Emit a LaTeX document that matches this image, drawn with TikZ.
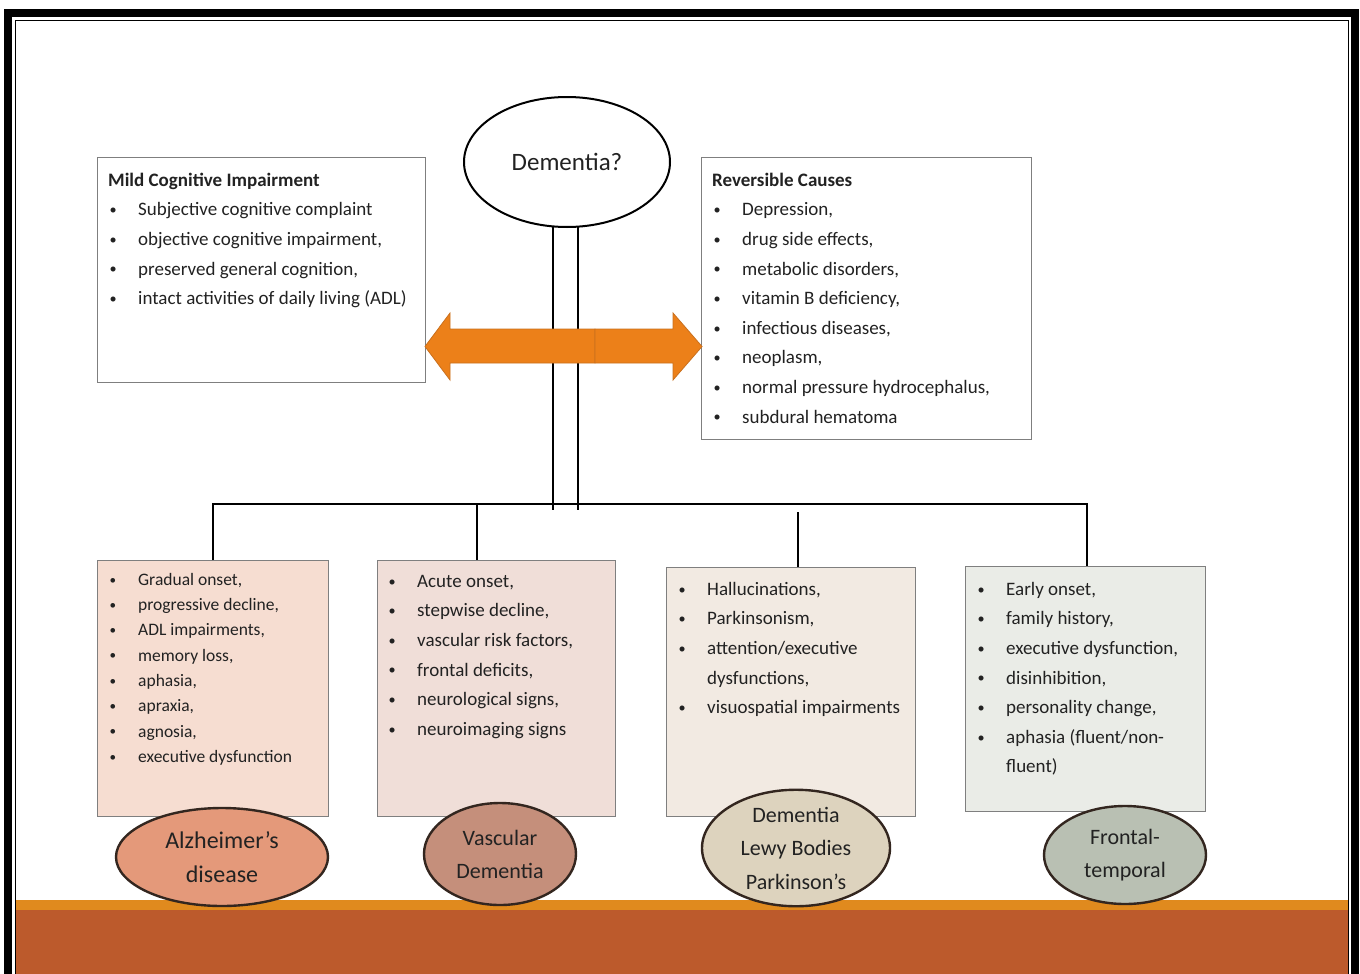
\documentclass[tikz,border=0pt]{standalone}
\usepackage{fontspec}
\setmainfont{Carlito}
\usepackage{xcolor}
\usetikzlibrary{positioning,shapes.geometric}

\definecolor{boxgray}{HTML}{7F7F7F}
\definecolor{inkgray}{HTML}{222222}
\definecolor{arroworange}{HTML}{EC8019}
\definecolor{arrowedge}{HTML}{C9701E}
\definecolor{barorange}{HTML}{E08A1E}
\definecolor{barrust}{HTML}{BC5A2C}
\definecolor{alzfill}{HTML}{F6DDD1}
\definecolor{vasfill}{HTML}{F0DED8}
\definecolor{lewyfill}{HTML}{F2EAE2}
\definecolor{ftdfill}{HTML}{EAECE7}
\definecolor{alzoval}{HTML}{E4997A}
\definecolor{vasoval}{HTML}{C58F7B}
\definecolor{lewyoval}{HTML}{DDD3BE}
\definecolor{ftdoval}{HTML}{B9C0B3}
\definecolor{ovaledge}{HTML}{33261F}

\newcommand{\blt}{\makebox[30pt][l]{\hspace{1.5pt}\raisebox{1.2pt}{\scalebox{0.75}{\textbullet}}}}
\newcommand{\cnt}{\hspace*{30pt}}

\begin{document}
\begin{tikzpicture}[x=1pt, y=-1pt,
  box/.style={draw=boxgray, line width=1.3pt, anchor=north west, inner sep=0pt},
  items/.style={anchor=north west, inner sep=0pt, align=left, text=inkgray, font=\fontsize{19}{29.6}\selectfont},
  oval/.style={ellipse, draw=ovaledge, line width=2.4pt, inner sep=0pt, align=center, text=inkgray},
  conn/.style={black, line width=2.6pt}]
  \useasboundingbox (0,0) rectangle (1360,974);
  \fill[white] (0,0) rectangle (1360,974);
  \fill[barorange] (16,900) rectangle (1348,974);
  \fill[barrust] (16,910) rectangle (1348,974);
  \draw[black, line width=8pt] (8,990) -- (8,13.5) -- (1355,13.5) -- (1355,990);
  \draw[black, line width=1pt] (15,990) -- (15,20.5) -- (1348,20.5) -- (1348,990);

  \node[box, minimum width=328pt, minimum height=225pt] (mci) at (97,157) {};
  \node[box, minimum width=330pt, minimum height=282pt] (rev) at (701,157) {};
  \node[box, fill=alzfill, minimum width=231pt, minimum height=256pt] (alzbox) at (97,560) {};
  \node[box, fill=vasfill, minimum width=238pt, minimum height=256pt] (vasbox) at (377,560) {};
  \node[box, fill=lewyfill, minimum width=249pt, minimum height=249pt] (lewybox) at (666,567) {};
  \node[box, fill=ftdfill, minimum width=240pt, minimum height=245pt] (ftdbox) at (965,566) {};

  \node[items, below right=8.3pt and 11pt of mci.north west] (mcitext) {\strut\textbf{Mild Cognitive Impairment}\\
    \blt Subjective cognitive complaint\\
    \blt objective cognitive impairment,\\
    \blt preserved general cognition,\\
    \blt intact activities of daily living (ADL)};
  \node[items, below right=8.3pt and 11pt of rev.north west] (revtext) {\strut\textbf{Reversible Causes}\\
    \blt Depression,\\
    \blt drug side effects,\\
    \blt metabolic disorders,\\
    \blt vitamin B deficiency,\\
    \blt infectious diseases,\\
    \blt neoplasm,\\
    \blt normal pressure hydrocephalus,\\
    \blt subdural hematoma};
  \node[items, font=\fontsize{17.5}{25.3}\selectfont, below right=7.3pt and 11pt of alzbox.north west] (alztext) {\strut\blt Gradual onset,\\
    \blt progressive decline,\\
    \blt ADL impairments,\\
    \blt memory loss,\\
    \blt aphasia,\\
    \blt apraxia,\\
    \blt agnosia,\\
    \blt executive dysfunction};
  \node[items, below right=6.3pt and 10pt of vasbox.north west] (vastext) {\strut\blt Acute onset,\\
    \blt stepwise decline,\\
    \blt vascular risk factors,\\
    \blt frontal deficits,\\
    \blt neurological signs,\\
    \blt neuroimaging signs};
  \node[items, below right=7.3pt and 11pt of lewybox.north west] (lewytext) {\strut\blt Hallucinations,\\
    \blt Parkinsonism,\\
    \blt attention/executive\\
    \cnt dysfunctions,\\
    \blt visuospatial impairments};
  \node[items, below right=8.3pt and 11pt of ftdbox.north west] (ftdtext) {\strut\blt Early onset,\\
    \blt family history,\\
    \blt executive dysfunction,\\
    \blt disinhibition,\\
    \blt personality change,\\
    \blt aphasia (fluent/non-\\
    \cnt fluent)};

  \coordinate (hubL) at (553,510);
  \coordinate (hubR) at (578,510);
  \coordinate (ftddrop) at (1087,504);
  \coordinate (vasdrop) at (477,504);
  \coordinate (lewydrop) at (798,512);
  \draw[conn] (hubL |- 0,162) -- (hubL);
  \draw[conn] (hubR |- 0,162) -- (hubR);
  \draw[conn] (alzbox.north) |- (ftddrop) -- (ftddrop |- ftdbox.north);
  \draw[conn] (vasdrop) -- (vasdrop |- vasbox.north);
  \draw[conn] (lewydrop) -- (lewydrop |- lewybox.north);

  \filldraw[fill=arroworange, draw=arrowedge, line width=0.8pt] (595,329) -- (450,329) -- (450,313) -- (425,346.5) -- (450,380) -- (450,363) -- (595,363) -- cycle;
  \filldraw[fill=arroworange, draw=arrowedge, line width=0.8pt] (595,329) -- (673,329) -- (673,313) -- (702,346.5) -- (673,380) -- (673,363) -- (595,363) -- cycle;

  \node[oval, fill=white, draw=black, line width=2pt, minimum width=206pt, minimum height=130pt, font=\fontsize{25}{29}\selectfont] (dem) at (567,162) {Dementia?};
  \node[oval, fill=alzoval, minimum width=212pt, minimum height=98pt, font=\fontsize{24}{34}\selectfont] (alz) at (222,857) {Alzheimer's\\disease};
  \node[oval, fill=vasoval, minimum width=152pt, minimum height=102pt, font=\fontsize{22}{33}\selectfont] (vas) at (500,854) {Vascular\\Dementia};
  \node[oval, fill=lewyoval, minimum width=188pt, minimum height=116pt, font=\fontsize{22}{33.5}\selectfont] (lewy) at (796,848) {Dementia\\Lewy Bodies\\Parkinson's};
  \node[oval, fill=ftdoval, minimum width=162pt, minimum height=98pt, font=\fontsize{22}{33}\selectfont] (ftd) at (1125,855) {Frontal-\\temporal};
\end{tikzpicture}
\end{document}
